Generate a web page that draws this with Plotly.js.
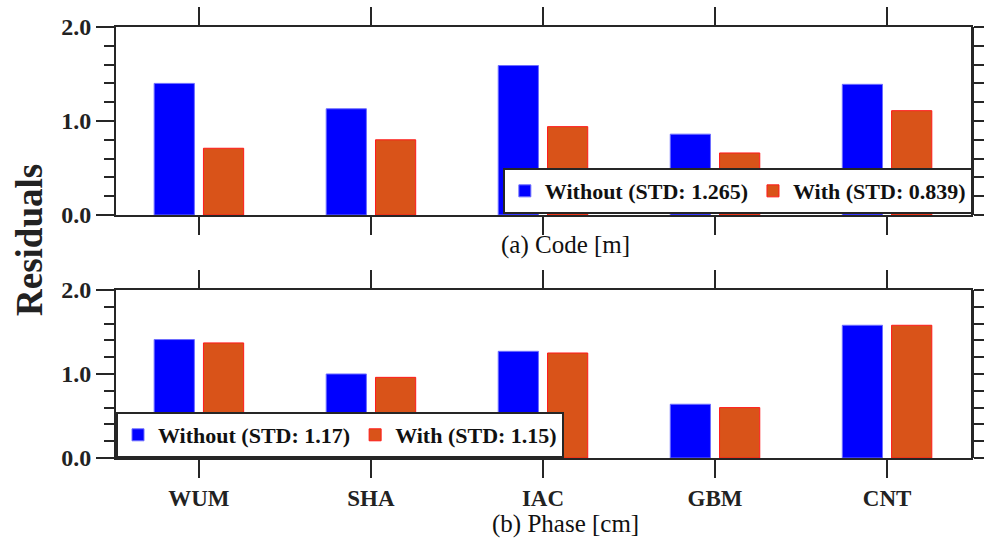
<!DOCTYPE html>
<html>
<head>
<meta charset="utf-8">
<script src="https://cdn.plot.ly/plotly-3.0.1.min.js"></script>
<style>html,body{margin:0;padding:0;background:#fff;}#chart{width:984px;height:542px;}</style>
</head>
<body>
<div id="chart"></div>
<script>
const categories = ["WUM", "SHA", "IAC", "GBM", "CNT"];
const codeWithout = [1.40, 1.13, 1.59, 0.86, 1.39];
const codeWith = [0.71, 0.80, 0.94, 0.66, 1.11];
const phaseWithout = [1.41, 1.00, 1.27, 0.64, 1.58];
const phaseWith = [1.37, 0.96, 1.25, 0.60, 1.58];
const codeNames = ["Without (STD: 1.265)", "With (STD: 0.839)"];
const phaseNames = ["Without (STD: 1.17)", "With (STD: 1.15)"];
const yTickVals = [0, 1, 2];
const yTickText = ["0.0", "1.0", "2.0"];

const BLUE = "#0000ff", ORANGE = "#d95319", RED = "#ff1a1a";
const FONT = "Liberation Serif";
const AX = "#262626";

const traces = [
  {type: "bar", x: categories, y: codeWithout, name: codeNames[0], xaxis: "x", yaxis: "y",
   marker: {color: BLUE, line: {color: "#6e6eff", width: 1}}, legend: "legend"},
  {type: "bar", x: categories, y: codeWith, name: codeNames[1], xaxis: "x", yaxis: "y",
   marker: {color: ORANGE, line: {color: RED, width: 1}}, legend: "legend"},
  {type: "bar", x: categories, y: phaseWithout, name: phaseNames[0], xaxis: "x2", yaxis: "y2",
   marker: {color: BLUE, line: {color: "#6e6eff", width: 1}}, legend: "legend2"},
  {type: "bar", x: categories, y: phaseWith, name: phaseNames[1], xaxis: "x2", yaxis: "y2",
   marker: {color: ORANGE, line: {color: RED, width: 1}}, legend: "legend2"},
  {type: "scatter", x: [], y: [], xaxis: "x", yaxis: "y3", showlegend: false, hoverinfo: "skip"},
  {type: "scatter", x: [], y: [], xaxis: "x2", yaxis: "y4", showlegend: false, hoverinfo: "skip"}
];

const topDom = [0.5638, 1.0];
const botDom = [0.0, 0.3898];

function yAx(dom, anchor) {
  return {
    domain: dom, anchor: anchor, range: [0, 2], fixedrange: true,
    tickmode: "array", tickvals: yTickVals, ticktext: yTickText,
    ticks: "outside", ticklen: 18, tickwidth: 2, tickcolor: AX,
    minor: {dtick: 0.2, ticks: "outside", ticklen: 10, tickwidth: 2, tickcolor: AX, showgrid: false},
    showgrid: false, zeroline: false, showline: true, linecolor: AX, linewidth: 2, mirror: true,
    tickfont: {family: FONT, size: 24, color: "#222", weight: "bold"}
  };
}
function yRight(dom, overl, anchor) {
  return {
    domain: dom, overlaying: overl, side: "right", anchor: anchor, range: [0, 2], fixedrange: true,
    dtick: 0.2, tick0: 0, ticks: "outside", ticklen: 11, tickwidth: 2, tickcolor: AX,
    showticklabels: false, showgrid: false, zeroline: false, showline: true, linecolor: AX, linewidth: 3
  };
}
function xAx(anchor, labels) {
  return {
    anchor: anchor, fixedrange: true, categoryorder: "array", categoryarray: categories,
    range: [-0.482, 4.488],
    ticks: "outside", ticklen: 18, tickwidth: 2, tickcolor: AX,
    showline: true, linecolor: AX, linewidth: 2, mirror: "ticks",
    showticklabels: labels, showgrid: false, zeroline: false,
    tickfont: {family: FONT, size: 23, color: "#222", weight: "bold"}
  };
}

const legendFont = {family: FONT, size: 22, color: "#111", weight: "bold"};

const layout = {
  width: 984, height: 542,
  margin: {l: 116, r: 12, t: 27, b: 84},
  paper_bgcolor: "#fff", plot_bgcolor: "#fff",
  barmode: "group", bargap: 0.427, bargroupgap: 0.184,
  showlegend: true,
  xaxis: xAx("y", false),
  yaxis: yAx(topDom, "x"),
  xaxis2: xAx("y2", true),
  yaxis2: yAx(botDom, "x2"),
  yaxis3: yRight(topDom, "y", "x"),
  yaxis4: yRight(botDom, "y2", "x2"),
  legend: {orientation: "h", x: 1.001, xanchor: "right", y: 0.566, yanchor: "bottom",
    bgcolor: "#fff", bordercolor: AX, borderwidth: 2, font: legendFont,
    itemwidth: 30, tracegroupgap: 0, itemclick: false},
  legend2: {orientation: "h", x: 0, xanchor: "left", y: 0, yanchor: "bottom",
    bgcolor: "#fff", bordercolor: AX, borderwidth: 2, font: legendFont,
    itemwidth: 30, tracegroupgap: 0, itemclick: false},
  annotations: [
    {text: "(a) Code [m]", xref: "paper", yref: "paper", x: 0.526, y: 0.494, showarrow: false,
     xanchor: "center", yanchor: "middle", font: {family: FONT, size: 25, color: "#111"}},
    {text: "(b) Phase [cm]", xref: "paper", yref: "paper", x: 0.526, y: -0.152, showarrow: false,
     xanchor: "center", yanchor: "middle", font: {family: FONT, size: 25, color: "#111"}},
    {text: "Residuals", xref: "paper", yref: "paper", x: -0.1005, y: 0.506, showarrow: false,
     textangle: -90, xanchor: "center", yanchor: "middle",
     font: {family: FONT, size: 37, color: "#222", weight: "bold"}}
  ]
};

Plotly.newPlot("chart", traces, layout, {displayModeBar: false, staticPlot: true});
</script>
</body>
</html>
